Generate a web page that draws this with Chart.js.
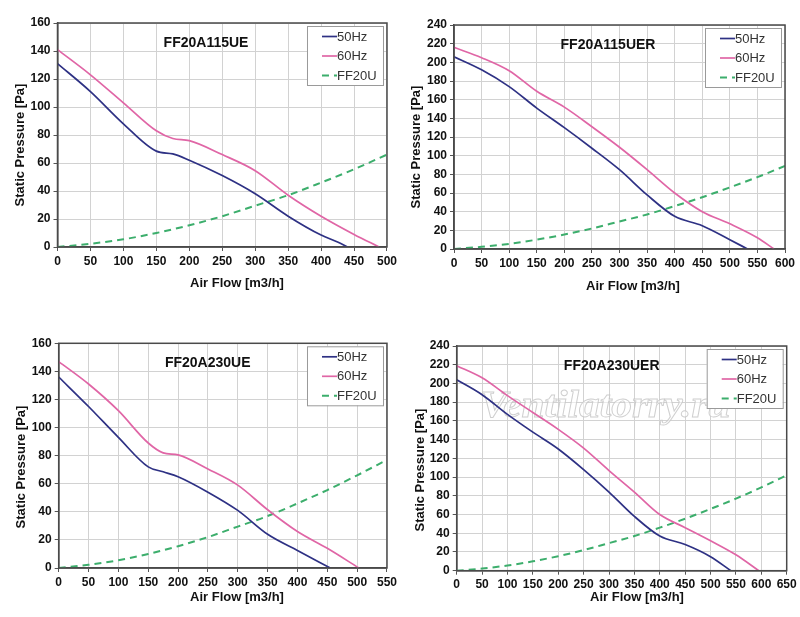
<!DOCTYPE html>
<html><head><meta charset="utf-8">
<script src="https://cdn.jsdelivr.net/npm/chart.js@4/dist/chart.umd.min.js"></script>
<style>
html,body{margin:0;padding:0;background:#fff;}
#wrap{position:relative;width:800px;height:617px;background:#fff;}
.c{position:absolute;width:400px;height:308px;}
</style></head><body>
<div id="wrap">
<div class="c" style="left:0;top:0"><canvas id="c1" width="400" height="308"></canvas></div>
<div class="c" style="left:400px;top:0"><canvas id="c2" width="400" height="308"></canvas></div>
<div class="c" style="left:0;top:309px"><canvas id="c3" width="400" height="308"></canvas></div>
<div class="c" style="left:400px;top:309px"><canvas id="c4" width="400" height="308"></canvas></div>
</div>
<script>
// ---- data ----
const seriesNames = ["50Hz", "60Hz", "FF20U"];
const modelNames = ["FF20A115UE", "FF20A115UER", "FF20A230UE", "FF20A230UER"];
const xTitle = "Air Flow [m3/h]";
const yTitle = "Static Pressure [Pa]";

// system curve FF20U
const sysFlow     = [0, 50, 100, 150, 200, 250, 300, 350, 400, 450, 500, 550, 600, 650];
const sysPressure = [0, 2.3, 5.5, 10, 15.5, 22, 29.5, 37, 46, 55.5, 66, 77, 89, 102];

// FF20A115UE
const a115Flow50 = [0, 50, 100, 150, 175, 200, 250, 300, 350, 400, 425, 440];
const a115P50    = [131, 111, 88, 68.5, 66.5, 62, 51, 38, 22, 8.5, 3.5, 0];
const a115Flow60 = [0, 50, 100, 150, 175, 200, 250, 300, 350, 400, 450, 488];
const a115P60    = [141, 123, 103, 83, 77.5, 76, 66, 54.5, 37, 22, 9, 0];

// FF20A115UER
const a115rFlow50 = [0, 50, 100, 150, 200, 250, 300, 350, 400, 450, 500, 532];
const a115rP50    = [206, 192, 174, 151, 130, 108, 85, 58, 35, 25, 10, 0];
const a115rFlow60 = [0, 50, 100, 150, 200, 250, 300, 350, 400, 450, 500, 550, 580];
const a115rP60    = [216, 205, 191, 169, 152, 131, 109, 85, 60, 40, 27, 12, 0];

// FF20A230UE
const a230Flow50 = [0, 50, 100, 150, 175, 200, 250, 300, 350, 400, 455];
const a230P50    = [136, 115, 93, 72, 68.5, 65, 54, 41, 24, 12.5, 0];
const a230Flow60 = [0, 50, 100, 150, 175, 200, 250, 300, 350, 400, 450, 503];
const a230P60    = [147, 131, 112, 89, 82, 80.5, 70.5, 59, 41.5, 26, 14, 0];

// FF20A230UER
const a230rFlow50 = [0, 50, 100, 150, 200, 250, 300, 350, 400, 450, 500, 540];
const a230rP50    = [204, 188, 167, 148, 130, 108, 84, 58, 37, 28, 15, 0];
const a230rFlow60 = [0, 50, 100, 150, 200, 250, 300, 350, 400, 450, 500, 550, 595];
const a230rP60    = [219, 206, 187, 169, 151, 131, 107, 84, 60, 46, 32, 17, 0];

const xMax = [500, 600, 550, 650];
const yMax = [160, 240, 160, 240];
const xStep = 50, yStep = 20;

// ---- chart construction ----
Chart.defaults.font.family = "'Liberation Sans', Arial, Helvetica, sans-serif";
const COL50 = '#2e3184', COL60 = '#e066a6', COLSYS = '#3cae6c';

function pts(xs, ys){ return xs.map((x,i)=>({x:x, y:ys[i]})); }

const overlay = {
  id: 'overlay',
  beforeDatasetsDraw(chart, args, o){
    if (!o.watermark) return;
    const ctx = chart.ctx;
    ctx.save();
    ctx.translate(o.wmX, o.wmY);
    ctx.scale(1.12, 1);
    ctx.font = "italic bold 37px 'Liberation Serif', serif";
    ctx.textAlign = 'left'; ctx.textBaseline = 'alphabetic';
    ctx.fillStyle = 'rgba(255,255,255,0.55)';
    ctx.strokeStyle = 'rgba(195,195,195,0.8)'; ctx.lineWidth = 0.9;
    ctx.fillText(o.watermark, 0, 0);
    ctx.strokeText(o.watermark, 0, 0);
    ctx.restore();
  },
  afterDraw(chart, args, o){
    const ctx = chart.ctx, a = chart.chartArea;
    ctx.save();
    // plot border
    ctx.strokeStyle = '#4a4a4a'; ctx.lineWidth = 1.5;
    ctx.strokeRect(a.left, a.top, a.right - a.left, a.bottom - a.top);
    // chart title
    ctx.fillStyle = '#111';
    ctx.font = "bold 14px 'Liberation Sans', Arial, sans-serif";
    ctx.textAlign = 'center'; ctx.textBaseline = 'middle';
    ctx.fillText(o.title, a.left + o.titleDx, a.top + 20);
    // axis titles
    ctx.font = "bold 13px 'Liberation Sans', Arial, sans-serif";
    ctx.fillText(xTitle, o.xtX, o.xtY);
    ctx.save();
    ctx.translate(o.ytX, o.ytY); ctx.rotate(-Math.PI/2);
    ctx.fillText(yTitle, 0, 0);
    ctx.restore();
    // legend
    const bw = 76, bh = 59;
    const bx = a.right - 4 - bw, by = a.top + 3;
    ctx.fillStyle = '#fff'; ctx.fillRect(bx, by, bw, bh);
    ctx.strokeStyle = '#9a9a9a'; ctx.lineWidth = 1;
    ctx.strokeRect(bx + 0.5, by + 0.5, bw, bh);
    chart.data.datasets.forEach((ds, i) => {
      const ly = by + 10.5 + i * 19.5;
      ctx.strokeStyle = ds.borderColor; ctx.lineWidth = ds.borderWidth;
      ctx.setLineDash(ds.borderDash || []);
      ctx.beginPath(); ctx.moveTo(bx + 15, ly); ctx.lineTo(bx + 30, ly); ctx.stroke();
      ctx.setLineDash([]);
      ctx.fillStyle = '#333';
      ctx.font = "13px 'Liberation Sans', Arial, sans-serif";
      ctx.textAlign = 'left'; ctx.textBaseline = 'middle';
      ctx.fillText(ds.label, bx + 30, ly + 0.5);
    });
    ctx.restore();
  }
};

function makeChart(id, idx, f50, p50, f60, p60, geo){
  const sys = pts(sysFlow, sysPressure).filter(p => p.x <= xMax[idx]);
  return new Chart(document.getElementById(id), {
    type: 'line',
    data: {
      datasets: [
        {label: seriesNames[0], data: pts(f50, p50), borderColor: COL50, borderWidth: 1.7,
         pointRadius: 0, cubicInterpolationMode: 'monotone', fill: false},
        {label: seriesNames[1], data: pts(f60, p60), borderColor: COL60, borderWidth: 1.7,
         pointRadius: 0, cubicInterpolationMode: 'monotone', fill: false},
        {label: seriesNames[2], data: sys, borderColor: COLSYS, borderWidth: 2, borderDash: [7,5],
         pointRadius: 0, cubicInterpolationMode: 'monotone', fill: false}
      ]
    },
    options: {
      responsive: false, animation: false,
      layout: {padding: {top: geo.top, right: geo.right, left: 0, bottom: 0}},
      plugins: {legend: {display: false}, tooltip: {enabled: false},
        overlay: {title: modelNames[idx], titleDx: geo.titleDx,
                  xtX: geo.xtX, xtY: geo.xtY, ytX: geo.ytX, ytY: geo.ytY,
                  watermark: geo.watermark, wmX: geo.wmX, wmY: geo.wmY}},
      scales: {
        x: {type: 'linear', min: 0, max: xMax[idx],
            ticks: {stepSize: xStep, color: '#111', font: {size: 12, weight: 'bold'}, padding: 3, maxRotation: 0, autoSkip: false},
            grid: {color: '#d2d2d2', tickColor: '#555', tickLength: 4, lineWidth: 1},
            border: {display: true, color: '#4a4a4a', width: 1.5},
            afterFit: s => { s.height = geo.xH; }},
        y: {type: 'linear', min: 0, max: yMax[idx],
            ticks: {stepSize: yStep, color: '#111', font: {size: 12, weight: 'bold'}, padding: 3, autoSkip: false},
            grid: {color: '#d2d2d2', tickColor: '#555', tickLength: 4, lineWidth: 1},
            border: {display: true, color: '#4a4a4a', width: 1.5},
            afterFit: s => { s.width = geo.yW; }}
      }
    },
    plugins: [overlay]
  });
}

makeChart('c1', 0, a115Flow50, a115P50, a115Flow60, a115P60,
  {top: 23, right: 12, yW: 57.5, xH: 61, titleDx: 148.5, xtX: 237, xtY: 283, ytX: 20, ytY: 145});
makeChart('c2', 1, a115rFlow50, a115rP50, a115rFlow60, a115rP60,
  {top: 25, right: 15, yW: 54, xH: 59, titleDx: 154, xtX: 233, xtY: 286, ytX: 16.7, ytY: 147});
makeChart('c3', 2, a230Flow50, a230P50, a230Flow60, a230P60,
  {top: 34.3, right: 11, yW: 58.7, xH: 49, titleDx: 149, xtX: 237, xtY: 288, ytX: 21.7, ytY: 158});
makeChart('c4', 3, a230rFlow50, a230rP50, a230rFlow60, a230rP60,
  {top: 37, right: 13.3, yW: 56.7, xH: 46.3, titleDx: 155, xtX: 237, xtY: 288.5, ytX: 20, ytY: 161,
   watermark: 'Ventilatorry.ru', wmX: 80, wmY: 108});
</script>
</body></html>
